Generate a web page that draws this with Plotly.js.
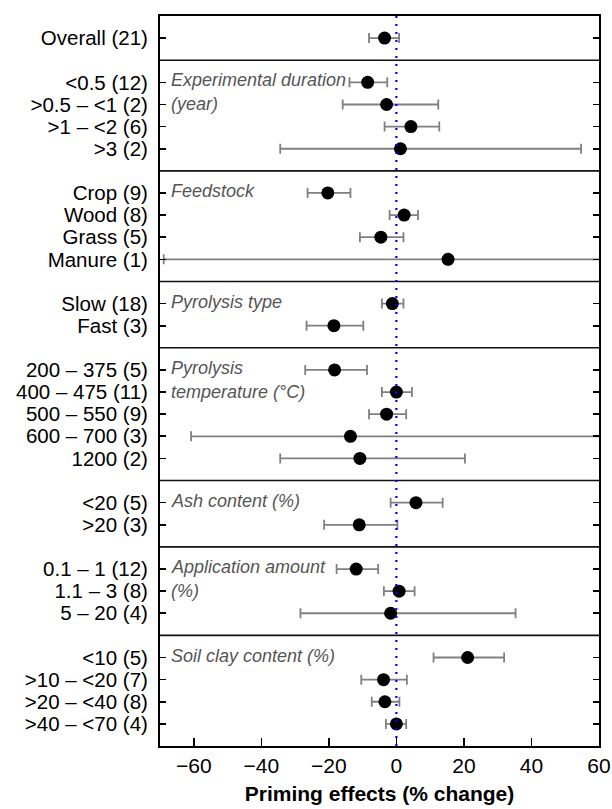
<!DOCTYPE html>
<html>
<head>
<meta charset="utf-8">
<script src="https://cdn.plot.ly/plotly-3.0.1.min.js"></script>
<style>html,body{margin:0;padding:0;background:#fff;}#chart{width:612px;height:809px;}</style>
</head>
<body>
<div id="chart"></div>
<script>
// ---- data ----
const rowLabels = [
  "Overall (21)",
  "<0.5 (12)", ">0.5 – <1 (2)", ">1 – <2 (6)", ">3 (2)",
  "Crop (9)", "Wood (8)", "Grass (5)", "Manure (1)",
  "Slow (18)", "Fast (3)",
  "200 – 375 (5)", "400 – 475 (11)", "500 – 550 (9)", "600 – 700 (3)", "1200 (2)",
  "<20 (5)", ">20 (3)",
  "0.1 – 1 (12)", "1.1 – 3 (8)", "5 – 20 (4)",
  "<10 (5)", ">10 – <20 (7)", ">20 – <40 (8)", ">40 – <70 (4)"
];
const means = [
  -3.5,
  -8.5, -2.9, 4.3, 1.2,
  -20.3, 2.3, -4.6, 15.3,
  -1.2, -18.5,
  -18.3, 0.0, -2.9, -13.6, -10.8,
  5.8, -11.0,
  -11.9, 0.8, -1.7,
  21.1, -3.8, -3.4, 0.0
];
const lowerCI = [
  -8.1,
  -13.9, -15.9, -3.5, -34.4,
  -26.3, -2.0, -10.8, -68.9,
  -4.3, -26.6,
  -27.0, -4.3, -8.1, -60.8, -34.4,
  -1.7, -21.4,
  -17.7, -3.7, -28.4,
  11.0, -10.4, -7.3, -3.1
];
const upperCI = [
  0.8,
  -2.7, 12.4, 12.7, 54.7,
  -13.6, 6.4, 2.1, 100,
  2.1, -9.8,
  -8.7, 4.6, 2.9, 80, 20.3,
  13.7, 0.3,
  -5.4, 5.4, 35.3,
  31.9, 3.1, 0.9, 2.9
];
const groupSizes = [1, 4, 4, 2, 5, 2, 3, 4];
const groupTitles = [
  [],
  ["Experimental duration", "(year)"],
  ["Feedstock"],
  ["Pyrolysis type"],
  ["Pyrolysis", "temperature (°C)"],
  ["Ash content (%)"],
  ["Application amount", "(%)"],
  ["Soil clay content (%)"]
];
const xTicks = [-60, -40, -20, 0, 20, 40, 60];

// ---- positions (rows, with one gap row between groups) ----
const pos = [];
const separators = [];
const annotations = [];
let p = 0;
groupSizes.forEach((n, g) => {
  const start = p;
  for (let k = 0; k < n; k++) { pos.push(p); p++; }
  groupTitles[g].forEach((t, k) => {
    annotations.push({
      xref: 'paper', x: 0, xanchor: 'left', xshift: 9,
      yref: 'y', y: start + k, yanchor: 'middle', yshift: k === 0 ? 2 : 0,
      text: '<i>' + t + '</i>', showarrow: false,
      font: {family: 'Arial, "Liberation Sans", sans-serif', size: 18, color: '#555555'}
    });
  });
  if (g < groupSizes.length - 1) { separators.push(p); p++; }
});

const shapes = separators.map(s => ({
  type: 'line', xref: 'paper', x0: 0, x1: 1, yref: 'y', y0: s, y1: s,
  line: {color: '#111111', width: 1.6}
}));
shapes.push({
  type: 'line', xref: 'x', x0: 0, x1: 0, yref: 'paper', y0: 0, y1: 1,
  line: {color: '#0000ff', width: 2.2, dash: '2px,6px'}
});

const trace = {
  type: 'scatter', mode: 'markers',
  x: means, y: pos,
  marker: {color: '#000000', size: 13},
  error_x: {
    type: 'data', symmetric: false,
    array: upperCI.map((u, i) => u - means[i]),
    arrayminus: lowerCI.map((l, i) => means[i] - l),
    color: '#808080', thickness: 1.8, width: 5
  },
  hoverinfo: 'skip'
};

const font = 'Arial, "Liberation Sans", sans-serif';
const layout = {
  width: 612, height: 809,
  margin: {l: 160, r: 13, t: 16, b: 63},
  paper_bgcolor: '#ffffff', plot_bgcolor: '#ffffff',
  showlegend: false,
  font: {family: font, color: '#000000'},
  xaxis: {
    range: [-70, 60], tickvals: xTicks, ticktext: xTicks.map(v => v < 0 ? '−' + Math.abs(v) : String(v)),
    ticks: 'inside', ticklen: 8, tickwidth: 1.6, tickcolor: '#000',
    showline: true, linecolor: '#000', linewidth: 2, mirror: true,
    showgrid: false, zeroline: false,
    tickfont: {family: font, size: 21, color: '#000'},
    ticklabelstandoff: 0,
    title: {text: 'Priming effects (% change)', font: {family: font, size: 21, color: '#000', weight: 'bold'}, standoff: 10}
  },
  yaxis: {
    range: [32, -1], tickvals: pos, ticktext: rowLabels,
    ticks: 'inside', ticklen: 6, tickwidth: 1.6, tickcolor: '#000',
    showline: true, linecolor: '#000', linewidth: 2, mirror: 'ticks',
    showgrid: false, zeroline: false,
    tickfont: {family: font, size: 20.5, color: '#000'},
    ticklabelstandoff: 6
  },
  shapes: shapes,
  annotations: annotations
};

Plotly.newPlot('chart', [trace], layout, {displayModeBar: false, staticPlot: true});
</script>
</body>
</html>
